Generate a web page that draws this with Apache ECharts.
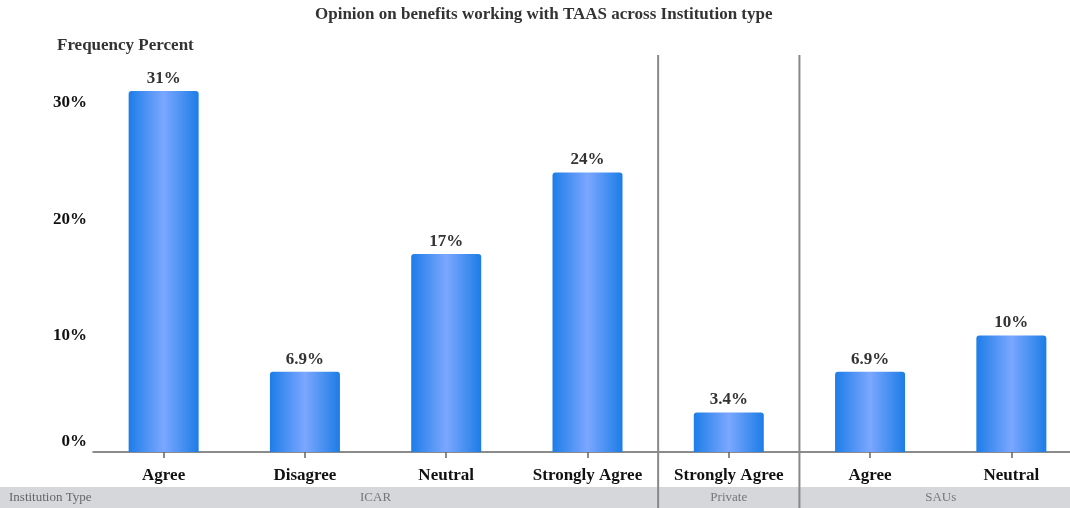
<!DOCTYPE html>
<html>
<head>
<meta charset="utf-8">
<title>Opinion on benefits working with TAAS across Institution type</title>
<script src="https://cdn.jsdelivr.net/npm/echarts@6/dist/echarts.min.js"></script>
<style>
  html, body { margin: 0; padding: 0; background: #ffffff; overflow: hidden; }
  #chart { width: 1082px; height: 508px; }
</style>
</head>
<body>
<div id="chart"></div>
<script>
// Responses per institution type (percent of all respondents)
const categories = ['Agree', 'Disagree', 'Neutral', 'Strongly Agree', 'Strongly Agree', 'Agree', 'Neutral'];
const groups = ['ICAR', 'ICAR', 'ICAR', 'ICAR', 'Private', 'SAUs', 'SAUs'];
const percents = [31, 6.9, 17, 24, 3.4, 6.9, 10];
const percentLabels = ['31%', '6.9%', '17%', '24%', '3.4%', '6.9%', '10%'];
const yTickValues = [0, 10, 20, 30];

const FONT = '"Liberation Serif", "Times New Roman", serif';

const chart = echarts.init(document.getElementById('chart'), null, { renderer: 'canvas' });

const barColor = new echarts.graphic.LinearGradient(0, 0, 1, 0, [
  { offset: 0, color: '#1d7de8' },
  { offset: 0.5, color: '#7ba7ff' },
  { offset: 1, color: '#1c7de6' }
]);

chart.setOption({
  animation: false,
  backgroundColor: '#ffffff',
  title: [
    {
      text: 'Opinion on benefits working with TAAS across Institution type',
      left: 310,
      top: 1,
      textStyle: { fontFamily: FONT, fontWeight: 'bold', fontSize: 17, color: '#333333' }
    },
    {
      text: 'Frequency Percent',
      left: 52,
      top: 32,
      textStyle: { fontFamily: FONT, fontWeight: 'bold', fontSize: 17, color: '#333333' }
    }
  ],
  grid: { left: 93, top: 55, right: 0, bottom: 56, containLabel: false },
  xAxis: {
    type: 'category',
    data: categories,
    axisLine: { show: true, lineStyle: { color: '#666666', width: 1.5 } },
    axisTick: { show: true, alignWithLabel: true, length: 6, lineStyle: { color: '#666666', width: 1.5 } },
    axisLabel: {
      interval: 0,
      margin: 15,
      fontFamily: FONT, fontWeight: 'bold', fontSize: 17, color: '#111111'
    },
    splitLine: { show: false }
  },
  yAxis: {
    type: 'value',
    min: 0,
    max: 34.1,
    interval: 10,
    axisLine: { show: false },
    axisTick: { show: false },
    splitLine: { show: false },
    axisLabel: {
      margin: 6,
      fontFamily: FONT, fontWeight: 'bold', fontSize: 17, color: '#111111',
      formatter: function (v) {
        if (yTickValues.indexOf(v) < 0) return '';
        if (v === 0) return '{zero|0%}';
        return v + '%';
      },
      rich: {
        zero: {
          fontFamily: FONT, fontWeight: 'bold', fontSize: 17, color: '#111111',
          padding: [0, 0, 20, 0]
        }
      }
    }
  },
  series: [{
    type: 'bar',
    data: percents,
    barWidth: 70,
    itemStyle: { color: barColor, borderRadius: [3, 3, 0, 0] },
    label: {
      show: true,
      position: 'top',
      distance: 4,
      fontFamily: FONT, fontWeight: 'bold', fontSize: 17, color: '#333333',
      formatter: function (p) { return percentLabels[p.dataIndex]; }
    }
  }]
});

// Institution-type band under the axis, with separators between groups
function drawGroupBand() {
  const centers = categories.map(function (c, i) { return chart.convertToPixel({ xAxisIndex: 0 }, i); });
  const step = centers.length > 1 ? centers[1] - centers[0] : 0;
  const top = 55, bandTop = 487, bottom = 508;
  const elements = [
    {
      type: 'rect', z: 1,
      shape: { x: 0, y: bandTop, width: chart.getWidth(), height: bottom - bandTop },
      style: { fill: '#d6d7da' }
    },
    {
      type: 'text', z: 3,
      style: {
        x: 9, y: (bandTop + bottom) / 2, text: 'Institution Type',
        font: '13px ' + FONT, fill: '#666666', textVerticalAlign: 'middle', textAlign: 'left'
      }
    }
  ];
  let start = 0;
  for (let i = 1; i <= groups.length; i++) {
    if (i === groups.length || groups[i] !== groups[start]) {
      const left = centers[start] - step / 2;
      const right = centers[i - 1] + step / 2;
      elements.push({
        type: 'text', z: 3,
        style: {
          x: (left + right) / 2, y: (bandTop + bottom) / 2, text: groups[start],
          font: '13px ' + FONT, fill: '#777777', textAlign: 'center', textVerticalAlign: 'middle'
        }
      });
      if (i < groups.length) {
        elements.push({
          type: 'line', z: 4,
          shape: { x1: right, y1: top, x2: right, y2: bottom },
          style: { stroke: '#888888', lineWidth: 2 }
        });
      }
      start = i;
    }
  }
  chart.setOption({ graphic: elements });
}
drawGroupBand();
</script>
</body>
</html>
